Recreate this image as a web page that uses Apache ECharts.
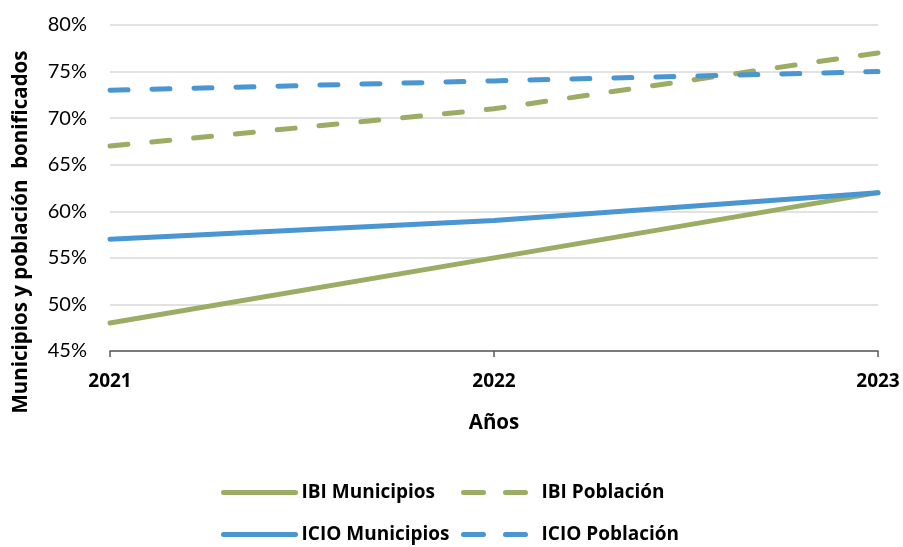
<!DOCTYPE html>
<html>
<head>
<meta charset="utf-8">
<script src="https://cdn.jsdelivr.net/npm/echarts@6/dist/echarts.min.js"></script>
<style>
  html, body { margin: 0; padding: 0; background: #fff; }
  #main { width: 903px; height: 547px; }
</style>
</head>
<body>
<div id="main"></div>
<script>
// datos
const years = ['2021', '2022', '2023']
const ibiMunicipios = [48, 55, 62]
const ibiPoblacion = [67, 71, 77]
const icioMunicipios = [57, 59, 62]
const icioPoblacion = [73, 74, 75]

const GREEN = '#9bad64'
const BLUE = '#4a96d2'
const FONT = 'Lato, sans-serif'
const BOLD_FONT = '"Open Sans", sans-serif'
const DASH = [18, 24]

const chart = echarts.init(document.getElementById('main'))

function legendAt (name, left, top, color, dashed) {
  return {
    data: [name],
    left: left,
    top: top,
    itemWidth: 72,
    itemHeight: 14,
    itemGap: 0,
    selectedMode: false,
    itemStyle: { opacity: 0 },
    lineStyle: { width: 5, color: color, type: dashed ? [20, 22] : 'solid', cap: 'round' },
    textStyle: { fontFamily: BOLD_FONT, fontSize: 19, fontWeight: 'bold', color: '#000', padding: [0, 0, 0, 1] }
  }
}

function lineSeries (name, data, color, dashed) {
  return {
    name: name,
    type: 'line',
    data: data,
    symbol: 'none',
    color: color,
    lineStyle: {
      width: 5,
      color: color,
      type: dashed ? DASH : 'solid',
      cap: 'round'
    },
    emphasis: { disabled: true }
  }
}

const option = {
  animation: false,
  grid: { left: 110, right: 25, top: 25, bottom: 196 },
  legend: [
    legendAt('IBI Municipios', 216, 478, GREEN, false),
    legendAt('IBI Población', 456, 478, GREEN, true),
    legendAt('ICIO Municipios', 216, 520, BLUE, false),
    legendAt('ICIO Población', 456, 520, BLUE, true)
  ],
  xAxis: {
    type: 'category',
    data: years,
    boundaryGap: false,
    name: 'Años',
    nameLocation: 'middle',
    nameGap: 62,
    nameTextStyle: { fontFamily: BOLD_FONT, fontSize: 20.5, fontWeight: 'bold', color: '#000' },
    axisLine: { lineStyle: { color: '#595959', width: 1.5 } },
    axisTick: { show: true, length: 6, lineStyle: { color: '#595959', width: 1.5 } },
    axisLabel: { fontFamily: BOLD_FONT, fontSize: 19, fontWeight: 'bold', color: '#000', margin: 21 },
    splitLine: { show: false }
  },
  yAxis: {
    type: 'value',
    min: 45,
    max: 80,
    interval: 5,
    axisLine: { show: false },
    axisTick: { show: false },
    axisLabel: {
      fontFamily: FONT, fontSize: 20, color: '#000', margin: 23,
      formatter: v => v + '%'
    },
    splitLine: { lineStyle: { color: '#d9d9d9', width: 1.5 } }
  },
  graphic: [
    {
      type: 'text',
      x: 21,
      y: 232,
      rotation: Math.PI / 2,
      style: {
        text: 'Municipios y población  bonificados',
        fontFamily: BOLD_FONT,
        fontSize: 20.5,
        fontWeight: 'bold',
        fill: '#000',
        align: 'center',
        verticalAlign: 'middle'
      }
    }
  ],
  series: [
    lineSeries('IBI Municipios', ibiMunicipios, GREEN, false),
    lineSeries('IBI Población', ibiPoblacion, GREEN, true),
    lineSeries('ICIO Municipios', icioMunicipios, BLUE, false),
    lineSeries('ICIO Población', icioPoblacion, BLUE, true)
  ]
}

chart.setOption(option)
</script>
</body>
</html>
